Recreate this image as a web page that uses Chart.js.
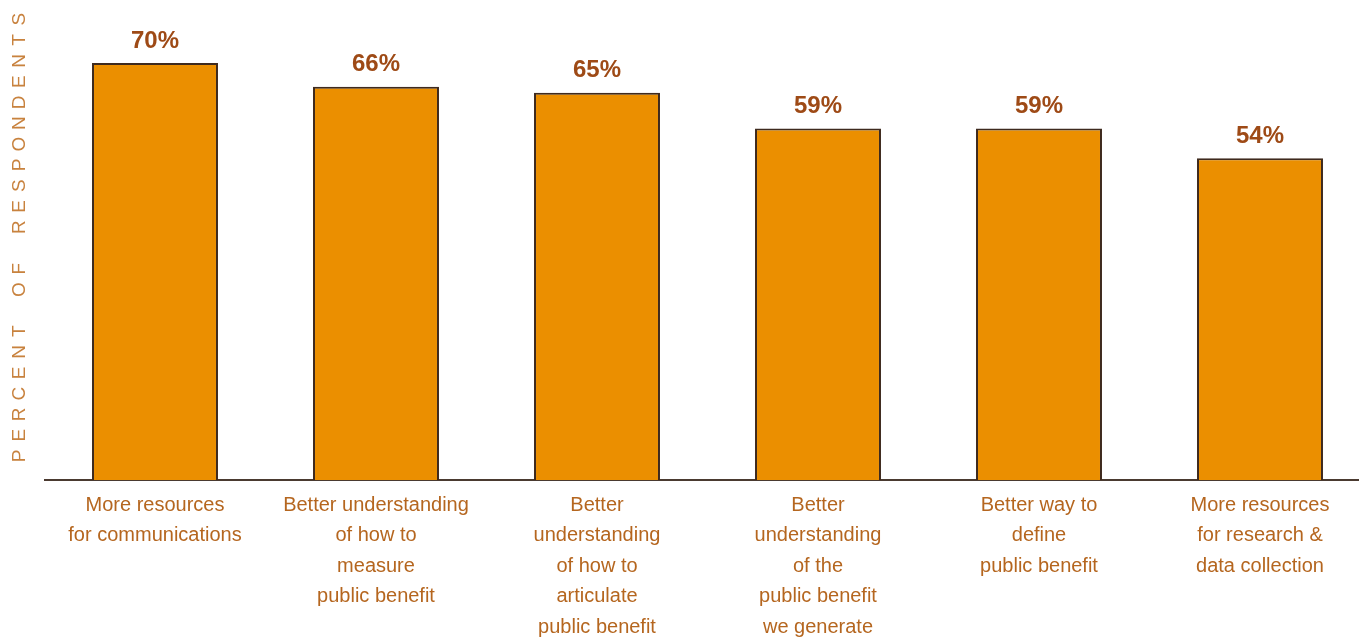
<!DOCTYPE html>
<html>
<head>
<meta charset="utf-8">
<script src="https://cdn.jsdelivr.net/npm/chart.js@4"></script>
<style>
  html, body { margin: 0; padding: 0; background: #fff; overflow: hidden; }
  #wrap { width: 1372px; height: 638px; position: relative; }
</style>
</head>
<body>
<div id="wrap"><canvas id="needschart"></canvas></div>
<script>
var categories = [
    ["More resources", "for communications"],
    ["Better understanding", "of how to", "measure", "public benefit"],
    ["Better", "understanding", "of how to", "articulate", "public benefit"],
    ["Better", "understanding", "of the", "public benefit", "we generate"],
    ["Better way to", "define", "public benefit"],
    ["More resources", "for research &", "data collection"]
];
var percents = [70, 66, 65, 59, 59, 54];
var axisTitle = "PERCENT OF RESPONDENTS";

var labelFont = "'Liberation Sans', Arial, sans-serif";

// percent labels above each bar
var valueLabels = {
    id: 'valueLabels',
    afterDatasetsDraw: function(chart) {
        var ctx = chart.ctx;
        var meta = chart.getDatasetMeta(0);
        ctx.save();
        ctx.fillStyle = '#9E4A16';
        ctx.font = "bold 24px " + labelFont;
        ctx.textAlign = 'center';
        ctx.textBaseline = 'middle';
        meta.data.forEach(function(bar, i) {
            ctx.fillText(percents[i] + '%', bar.x, bar.y - 22);
        });
        ctx.restore();
    }
};

// spaced-out vertical axis title
var spacedTitle = {
    id: 'spacedTitle',
    afterDraw: function(chart) {
        var ctx = chart.ctx;
        var step = 20.8;
        ctx.save();
        ctx.translate(20, 456);
        ctx.rotate(-Math.PI / 2);
        ctx.fillStyle = '#C8823E';
        ctx.font = "19px " + labelFont;
        ctx.textAlign = 'center';
        ctx.textBaseline = 'middle';
        for (var i = 0; i < axisTitle.length; i++) {
            ctx.fillText(axisTitle[i], i * step, 0);
        }
        ctx.restore();
    }
};

var ctx = document.getElementById("needschart");
var myBarChart = new Chart(ctx, {
    type: 'bar',
    data: {
        labels: categories,
        datasets: [{
            data: percents,
            backgroundColor: '#EB8F00',
            borderColor: '#3E2A1E',
            borderWidth: 2,
            borderSkipped: 'bottom',
            categoryPercentage: 0.57,
            barPercentage: 1.0
        }]
    },
    options: {
        responsive: true,
        maintainAspectRatio: false,
        animation: false,
        layout: { padding: { top: 3.4, left: 44.5, right: 1.5, bottom: 0 } },
        plugins: {
            legend: { display: false },
            tooltip: { enabled: false }
        },
        scales: {
            x: {
                grid: { display: false },
                border: { display: true, color: '#4A3A30', width: 2 },
                ticks: {
                    color: '#B5661F',
                    font: { family: labelFont, size: 20, lineHeight: 1.525 },
                    padding: 2,
                    maxRotation: 0,
                    autoSkip: false
                },
                afterFit: function(scale) { scale.height = 158; }
            },
            y: {
                display: false,
                min: 0,
                max: 80
            }
        }
    },
    plugins: [valueLabels, spacedTitle]
});
</script>
</body>
</html>
